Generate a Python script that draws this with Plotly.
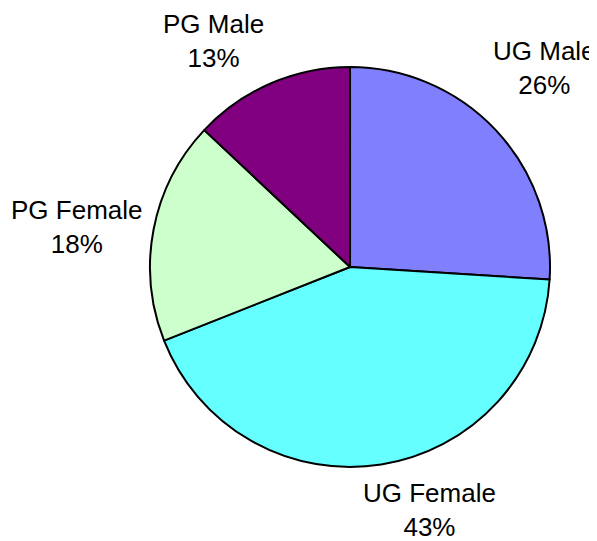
import numpy as np
import plotly.graph_objects as go

labels = ["UG Male", "UG Female", "PG Female", "PG Male"]
values = [26, 43, 18, 13]
colors = ["#8080FF", "#66FFFF", "#CCFFCC", "#800080"]

W, H = 597, 541
dom_x = [0.2379, 0.9079]
dom_y = [0.1516, 0.8909]
radius_px = (dom_x[1] - dom_x[0]) * W / 2
# small pixel nudges so the labels sit where the original put them
label_shift = [(-14, 20), (46, 0), (3, 0), (0, -3)]

fig = go.Figure(
    go.Pie(
        labels=labels,
        values=values,
        sort=False,
        direction="clockwise",
        rotation=0,
        marker=dict(colors=colors, line=dict(color="black", width=2)),
        textinfo="none",
        showlegend=False,
        automargin=False,
        domain=dict(x=dom_x, y=dom_y),
        hoverinfo="label+percent",
    )
)

# outside labels, placed just past the rim at each slice's mid angle
vals = np.array(values, dtype=float)
pct = vals / vals.sum()
mid = (np.cumsum(pct) - pct / 2) * 2 * np.pi
cx = sum(dom_x) / 2
cy = sum(dom_y) / 2
dist = radius_px * 1.06

for lab, p, a, (dx, dy) in zip(labels, pct, mid, label_shift):
    sx, sy = np.sin(a), np.cos(a)
    xanchor = "left" if sx > 0.3 else ("right" if sx < -0.3 else "center")
    yanchor = "bottom" if sy > 0.3 else ("top" if sy < -0.3 else "middle")
    fig.add_annotation(
        x=cx + dist * sx / W,
        y=cy + dist * sy / H,
        xref="paper",
        yref="paper",
        text=f"{lab}<br>{p:.0%}",
        showarrow=False,
        xanchor=xanchor,
        yanchor=yanchor,
        xshift=dx,
        yshift=dy,
        align="center",
        font=dict(family="Liberation Sans, Arial", size=26, color="black"),
    )

fig.update_layout(
    width=W,
    height=H,
    margin=dict(l=0, r=0, t=0, b=0, autoexpand=False),
    paper_bgcolor="white",
    plot_bgcolor="white",
)

fig.write_html("out.html")
